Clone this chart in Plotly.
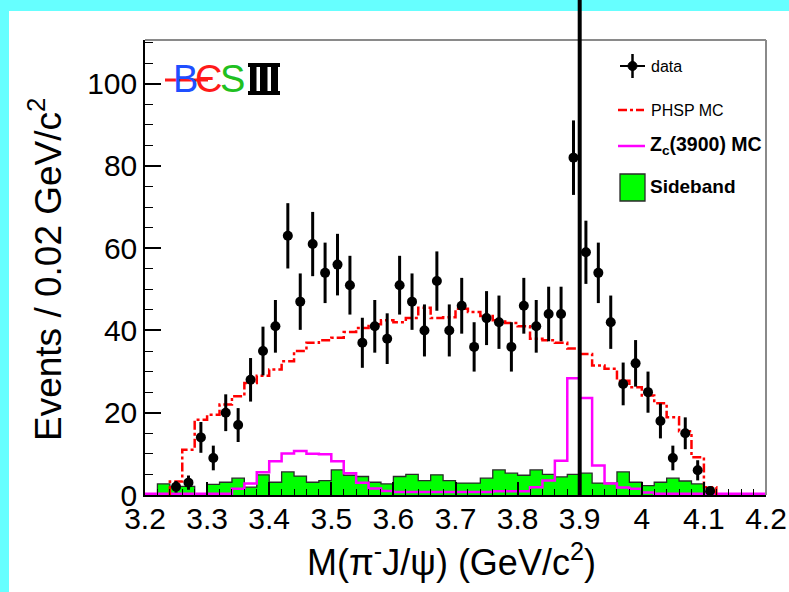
import math
import plotly.graph_objects as go

# ---------------- data ----------------
bin_edges = [3.20, 3.22, 3.24, 3.26, 3.28, 3.30, 3.32, 3.34, 3.36, 3.38,
             3.40, 3.42, 3.44, 3.46, 3.48, 3.50, 3.52, 3.54, 3.56, 3.58,
             3.60, 3.62, 3.64, 3.66, 3.68, 3.70, 3.72, 3.74, 3.76, 3.78,
             3.80, 3.82, 3.84, 3.86, 3.88, 3.90, 3.92, 3.94, 3.96, 3.98,
             4.00, 4.02, 4.04, 4.06, 4.08, 4.10, 4.12, 4.14, 4.16, 4.18, 4.20]

data_x = [3.25, 3.27, 3.29, 3.31, 3.33, 3.35, 3.37, 3.39, 3.41, 3.43,
          3.45, 3.47, 3.49, 3.51, 3.53, 3.55, 3.57, 3.59, 3.61, 3.63,
          3.65, 3.67, 3.69, 3.71, 3.73, 3.75, 3.77, 3.79, 3.81, 3.83,
          3.85, 3.87, 3.89, 3.91, 3.93, 3.95, 3.97, 3.99, 4.01, 4.03,
          4.05, 4.07, 4.09, 4.11]
data_counts = [2, 3, 14, 9, 20, 17, 28, 35, 41, 63,
               47, 61, 54, 56, 51, 37, 41, 38, 51, 47,
               40, 52, 40, 46, 36, 43, 42, 36, 46, 41,
               44, 44, 82, 59, 54, 42, 27, 32, 25, 18,
               9, 15, 6, 1]

phsp_mc = [0, 0, 3.3, 11, 18.3, 19.5, 22, 24, 27.2, 29,
           30.5, 32.5, 35, 37, 37.6, 38.2, 39.6, 40.6, 41.5, 42.5,
           42, 43, 45.5, 43, 43.2, 45.3, 44.5, 43.5, 42.5, 41.8,
           41, 38, 37.6, 37, 35.6, 34.3, 31.5, 30.7, 27.8, 26.2,
           24.2, 22.3, 18.9, 15.5, 9.2, 1.9, 0, 0, 0, 0]

zc_mc = [0.3, 0.3, 0.3, 0.3, 0.3, 0.3, 0.3, 1.5, 2.8, 5.5,
         8.2, 10.1, 10.7, 10.0, 9.9, 8.2, 5.3, 3.0, 1.6, 1.0,
         0.7, 0.7, 0.7, 0.7, 0.7, 0.7, 0.7, 0.7, 0.9, 0.9,
         0.9, 1.9, 3.5, 8.3, 28.4, 23.6, 7.2, 2.8, 1.8, 1.5,
         0.6, 0.3, 0.3, 0.3, 0.3, 0.3, 0.3, 0.3, 0.3, 0.3]

sideband = [0, 2.7, 2.1, 2.1, 0, 2.6, 3.1, 4.1, 1.9, 4.9,
            3.1, 5.6, 4.6, 3.1, 3.5, 6.1, 4.8, 4.5, 3.1, 2.7,
            4.5, 5.0, 3.5, 4.9, 3.5, 2.9, 2.9, 4.1, 6.1, 5.3,
            4.8, 6.1, 5.0, 4.4, 5.0, 5.3, 2.9, 2.9, 5.6, 3.1,
            2.3, 3.1, 4.1, 3.4, 2.7, 0.8, 0, 0, 0, 0]

x_tick_vals = [3.2, 3.3, 3.4, 3.5, 3.6, 3.7, 3.8, 3.9, 4.0, 4.1, 4.2]
x_tick_text = ["3.2", "3.3", "3.4", "3.5", "3.6", "3.7", "3.8", "3.9", "4", "4.1", "4.2"]
y_tick_vals = [0, 20, 40, 60, 80, 100]
zc_line_x = 3.9

# ---------------- helpers ----------------
W, H = 789, 592
L, R, T, B = 145, 23, 40, 97
PW, PH = W - L - R, H - T - B
XR = [3.2, 4.2]
YR = [0, 110.6]


def px(xpix):
    return (xpix - L) / PW


def py(ypix):
    return (H - B - ypix) / PH


def step(edges, vals):
    xs = list(edges[:-1]) + [edges[-1]]
    ys = list(vals) + [vals[-1]]
    return xs, ys


FONT = "Liberation Sans, Arial, Helvetica, sans-serif"

fig = go.Figure()

# Sideband (filled green)
sx, sy = step(bin_edges, sideband)
fig.add_trace(go.Scatter(x=sx, y=sy, mode="lines", line=dict(shape="hv", color="#2a2a2a", width=1.3),
                         fill="tozeroy", fillcolor="#00ff00", showlegend=False, hoverinfo="skip"))

# Zc(3900) MC
zx, zy = step(bin_edges, zc_mc)
fig.add_trace(go.Scatter(x=zx, y=zy, mode="lines", line=dict(shape="hv", color="#ff00ff", width=2.5),
                         showlegend=False, hoverinfo="skip"))

# PHSP MC (only the non-empty range drawn, dropping to zero at the ends)
i0, i1 = 2, 46
pxs = [bin_edges[i0]] + list(bin_edges[i0:i1]) + [bin_edges[i1]]
pys = [0] + list(phsp_mc[i0:i1]) + [phsp_mc[i1 - 1]]
pxs.append(bin_edges[i1])
pys.append(0)
fig.add_trace(go.Scatter(x=pxs, y=pys, mode="lines",
                         line=dict(shape="hv", color="#ff0000", width=2.5, dash="dashdot"),
                         showlegend=False, hoverinfo="skip"))

# Data
errs = [math.sqrt(c) for c in data_counts]
fig.add_trace(go.Scatter(x=data_x, y=data_counts, mode="markers",
                         marker=dict(color="black", size=10),
                         error_y=dict(type="data", array=errs, thickness=3, width=0, color="black"),
                         showlegend=False))

shapes = []
# white canvas over cyan border
shapes.append(dict(type="rect", xref="paper", yref="paper", x0=px(9), x1=px(W + 5), y0=py(11), y1=py(H + 5),
                   fillcolor="white", line=dict(width=0), layer="below"))
# frame top/right in gray
shapes.append(dict(type="line", xref="paper", yref="paper", x0=0, x1=1, y0=1, y1=1,
                   line=dict(color="#8a8a8a", width=2)))
shapes.append(dict(type="line", xref="paper", yref="paper", x0=1, x1=1, y0=0, y1=1,
                   line=dict(color="#8a8a8a", width=2)))
# vertical line at 3.9
xl = (zc_line_x - XR[0]) / (XR[1] - XR[0])
shapes.append(dict(type="line", xref="paper", yref="paper", x0=xl, x1=xl, y0=0, y1=py(-2),
                   line=dict(color="black", width=4)))

# ---- legend (manual) ----
shapes.append(dict(type="line", xref="paper", yref="paper", x0=px(620), x1=px(645), y0=py(66), y1=py(66),
                   line=dict(color="black", width=2)))
shapes.append(dict(type="line", xref="paper", yref="paper", x0=px(632.5), x1=px(632.5), y0=py(54), y1=py(78),
                   line=dict(color="black", width=2.5)))
shapes.append(dict(type="circle", xref="paper", yref="paper", x0=px(628), x1=px(637), y0=py(61.5), y1=py(70.5),
                   fillcolor="black", line=dict(color="black", width=1)))
shapes.append(dict(type="line", xref="paper", yref="paper", x0=px(618), x1=px(644), y0=py(110), y1=py(110),
                   line=dict(color="#ff0000", width=2.5, dash="dashdot")))
shapes.append(dict(type="line", xref="paper", yref="paper", x0=px(618), x1=px(645), y0=py(146), y1=py(146),
                   line=dict(color="#ff00ff", width=2.5)))
shapes.append(dict(type="rect", xref="paper", yref="paper", x0=px(620), x1=px(645), y0=py(174), y1=py(201),
                   fillcolor="#00ff00", line=dict(color="#2a2a2a", width=1.3)))

# ---- BESIII logo: III drawn as bars ----
shapes.append(dict(type="rect", xref="paper", yref="paper", x0=px(248), x1=px(280), y0=py(63), y1=py(95),
                   fillcolor="black", line=dict(width=0)))
for gx in (256.5, 267.5):
    shapes.append(dict(type="rect", xref="paper", yref="paper", x0=px(gx), x1=px(gx + 3.5), y0=py(67), y1=py(91),
                       fillcolor="white", line=dict(width=0)))
for gx in (247, 278):
    shapes.append(dict(type="rect", xref="paper", yref="paper", x0=px(gx), x1=px(gx + 3), y0=py(67), y1=py(91),
                       fillcolor="white", line=dict(width=0)))

annotations = []


def ann(text, x, y, size, color="black", xanchor="left", bold=False, angle=0, family=FONT):
    if bold:
        text = "<b>" + text + "</b>"
    annotations.append(dict(text=text, xref="paper", yref="paper", x=px(x), y=py(y),
                            xanchor=xanchor, yanchor="middle", showarrow=False, textangle=angle,
                            font=dict(size=size, color=color, family=family)))


ann("data", 649, 66, 16)
ann("PHSP MC", 649, 110, 16)
ann("Z<sub>c</sub>(3900) MC", 648, 146, 19.5, bold=True)
ann("Sideband", 648, 187, 19, bold=True)

ann("B", 185, 79, 38, color="#1f4fff", xanchor="center")
ann("Є", 208, 79, 38, color="#ff1a1a", xanchor="center")
ann("S", 232, 79, 38, color="#20c020", xanchor="center")
shapes.append(dict(type="line", xref="paper", yref="paper", x0=px(165), x1=px(208), y0=py(80), y1=py(80),
                   line=dict(color="#ff1a1a", width=3)))

# axis titles
ann("Events / 0.02 GeV/c<sup>2</sup>", 45, 270, 37, xanchor="center", angle=-90)
ann("M(π<sup>-</sup>J/ψ) (GeV/c<sup>2</sup>)", 451, 560, 36, xanchor="center")

fig.update_layout(
    width=W, height=H, autosize=False,
    margin=dict(l=L, r=R, t=T, b=B, pad=0, autoexpand=False),
    paper_bgcolor="#66ffff", plot_bgcolor="white",
    shapes=shapes, annotations=annotations,
    font=dict(family=FONT, color="black"),
    showlegend=False,
)
fig.update_xaxes(range=XR, tickmode="array", tickvals=x_tick_vals, ticktext=x_tick_text,
                 automargin=False, ticklabelstandoff=-4,
                 ticks="inside", ticklen=13, tickwidth=1.5, tickcolor="black",
                 showline=True, linecolor="black", linewidth=1.5, showgrid=False, zeroline=False,
                 tickfont=dict(size=30, family=FONT, color="black"),
                 minor=dict(tickmode="linear", tick0=3.2, dtick=0.02, ticks="inside", ticklen=6,
                            tickwidth=1.2, tickcolor="black", showgrid=False))
fig.update_yaxes(range=YR, tickmode="array", tickvals=y_tick_vals,
                 automargin=False,
                 ticks="inside", ticklen=16, tickwidth=1.5, tickcolor="black",
                 showline=True, linecolor="black", linewidth=1.5, showgrid=False, zeroline=False,
                 tickfont=dict(size=30, family=FONT, color="black"),
                 minor=dict(tickmode="linear", tick0=0, dtick=5, ticks="inside", ticklen=8,
                            tickwidth=1.2, tickcolor="black", showgrid=False))

fig.write_html("out.html",
               config={"displayModeBar": False, "responsive": False},
               post_script="document.body.style.margin='0';document.body.style.padding='0';"
                           "document.body.style.background='#66ffff';"
                           "document.documentElement.style.overflow='hidden';")
